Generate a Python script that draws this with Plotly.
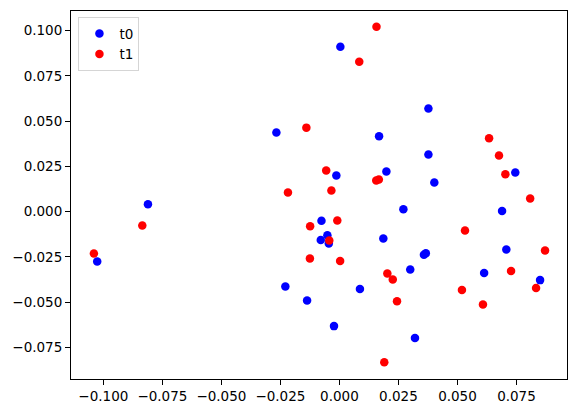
import plotly.graph_objects as go

# values
t0_x = [0.0004, 0.0377, 0.0168, 0.0377, -0.0013, 0.0199, 0.0745, 0.0402, 0.0271, 0.0689,
        -0.0267, -0.0811, -0.1026, -0.0076, -0.0079, -0.0229, -0.0137, -0.0051, -0.0045, 0.0186,
        0.0358, 0.0366, 0.0707, 0.0300, 0.0613, 0.0850, 0.0087, -0.0023, 0.0320]
t0_y = [0.0911, 0.0569, 0.0416, 0.0315, 0.0200, 0.0222, 0.0216, 0.0161, 0.0013, 0.0004,
        0.0437, 0.0041, -0.0275, -0.0050, -0.0157, -0.0413, -0.0490, -0.0130, -0.0176, -0.0148,
        -0.0238, -0.0230, -0.0209, -0.0319, -0.0339, -0.0378, -0.0427, -0.0632, -0.0698]

t1_x = [0.0157, 0.0084, -0.0140, 0.0634, 0.0676, -0.0056, 0.0703, 0.0156, 0.0167, -0.0034,
        0.0808, -0.0218, -0.0835, -0.1040, -0.0124, -0.0125, -0.0009, -0.0043, 0.0003, 0.0532,
        0.0871, 0.0203, 0.0226, 0.0727, 0.0833, 0.0519, 0.0608, 0.0244, 0.0190]
t1_y = [0.1021, 0.0828, 0.0464, 0.0405, 0.0310, 0.0227, 0.0207, 0.0172, 0.0178, 0.0117,
        0.0073, 0.0106, -0.0076, -0.0231, -0.0080, -0.0258, -0.0049, -0.0159, -0.0273, -0.0104,
        -0.0214, -0.0341, -0.0374, -0.0328, -0.0422, -0.0433, -0.0512, -0.0495, -0.0832]

fig = go.Figure()
fig.add_trace(go.Scatter(x=t0_x, y=t0_y, mode='markers', name='t0',
                         marker=dict(color='blue', size=8.5, line=dict(width=0))))
fig.add_trace(go.Scatter(x=t1_x, y=t1_y, mode='markers', name='t1',
                         marker=dict(color='red', size=8.5, line=dict(width=0))))

axis_style = dict(showline=True, mirror=True, linecolor='black', linewidth=1,
                  ticks='outside', ticklen=5, tickwidth=1, tickcolor='black',
                  showgrid=False, zeroline=False, tickformat='.3f', dtick=0.025,
                  automargin=False)

fig.update_xaxes(range=[-0.1137, 0.0964], tick0=0, **axis_style)
fig.update_yaxes(range=[-0.0924, 0.1108], tick0=0, **axis_style)

fig.update_layout(
    width=577,
    height=413,
    margin=dict(l=71, r=10, t=11, b=34),
    paper_bgcolor='white',
    plot_bgcolor='white',
    font=dict(family='DejaVu Sans', size=13.5, color='black'),
    showlegend=True,
    legend=dict(x=0.015, y=0.983, xanchor='left', yanchor='top',
                bordercolor='#d5d5d5', borderwidth=1, bgcolor='rgba(255,255,255,0.8)',
                font=dict(size=13.5), tracegroupgap=0),
)

# page body has a default 8px margin; drop it so the figure sits at the window corner
fig.write_html("out.html", config={'displayModeBar': False},
               post_script="document.body.style.margin = '0';")
